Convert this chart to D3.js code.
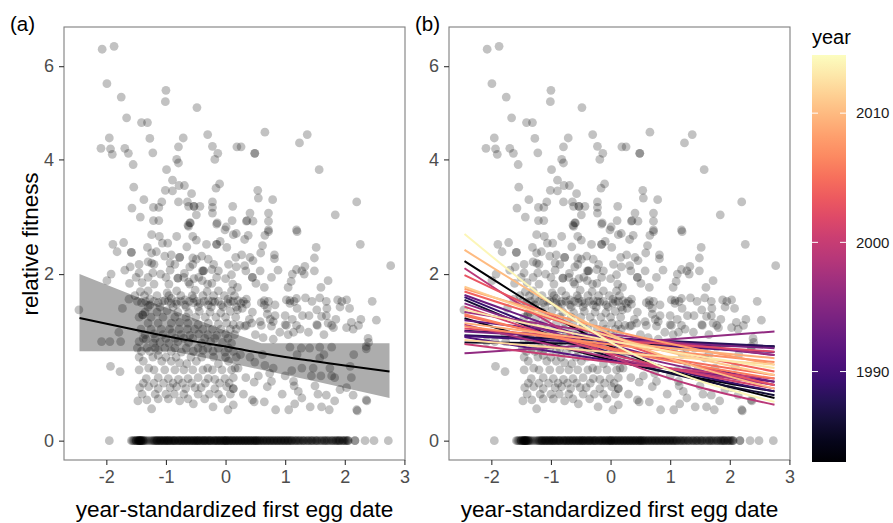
<!DOCTYPE html>
<html>
<head>
<meta charset="utf-8">
<script src="https://cdn.jsdelivr.net/npm/d3@7"></script>
<style>
  body { margin: 0; background: #fff; }
  text { font-family: "Liberation Sans", Arial, sans-serif; }
</style>
</head>
<body>
<script>
// relative fitness vs year-standardized first egg date
// (a) pooled fit with CI, (b) one fit per year coloured by year

// ---- nests: [egg date, relative fitness] ----
var highNests = [
  [-2.07,6.4],[-1.87,6.47],[-1.99,5.6],[-1.75,5.3],[-1.0,5.45],[-1.01,5.2],[-0.48,5.07],
  [-1.66,4.85],[-1.41,4.75],[-1.31,4.75],[-1.95,4.43],[-1.27,4.42],[-0.71,4.43],[-0.30,4.5],
  [0.66,4.55],[1.37,4.5],[1.24,4.33],[-2.09,4.22],[-1.93,4.21],[-1.90,4.1],[-1.69,4.22],
  [-1.63,4.12],[-1.22,4.13],[-0.79,4.25],[-0.22,4.26],[-0.13,4.12],[-0.18,4.0],[0.19,4.25],
  [0.26,4.25],[0.49,4.12],[0.49,4.12],[-0.82,4.0],[-0.79,3.93],[-1.55,3.9],[-0.99,3.8],[1.57,3.8],
  [-1.54,3.47],[-0.89,3.6],[-0.89,3.4],[-0.78,3.5],[-0.69,3.5],[-1.01,3.41],[-0.57,3.35],
  [-0.16,3.45],[-0.10,3.53],[0.54,3.41],[0.55,3.27],[0.79,3.24],[-1.37,3.24],[-1.57,3.09],
  [-1.21,3.1],[-1.12,3.1],[-1.07,3.2],[-0.79,3.2],[-0.64,3.2],[-0.62,3.12],[-0.53,3.12],
  [-0.53,3.12],[-0.43,3.12],[-0.22,3.2],[-0.22,3.1],[-0.22,3.0],[0.12,3.12],[0.41,3.0],
  [0.72,3.0],[0.72,2.86],[-1.43,2.93],[-1.21,2.87],[-1.12,2.87],[-0.59,2.83],[-0.62,2.77],
  [-0.49,2.97],[-0.14,2.83],[0.11,2.87],[0.36,2.87],[0.01,2.76],[2.20,3.2],[1.84,2.97],
  [1.19,2.71],[0.72,2.71]
];

var midNests = [
  [-1.89,2.47],[-1.71,2.5],[-1.82,2.35],[-1.58,2.34],[-1.58,2.34],[-1.31,2.42],[-1.24,2.63],
  [-1.11,2.6],[-1.06,2.49],[-0.97,2.49],[-0.82,2.6],[-0.63,2.79],[-0.6,2.83],[-0.55,2.6],
  [-0.49,2.54],[-0.32,2.47],[-0.15,2.47],[-0.15,2.47],[-0.09,2.52],[0.02,2.42],[-0.01,2.71],
  [0.13,2.63],[-0.15,2.81],[-1.24,2.33],[-1.16,2.35],[-1.3,2.19],[-1.24,2.17],[-1.02,2.28],
  [-0.91,2.3],[-0.77,2.26],[-0.77,2.26],[-0.93,2.17],[-0.65,2.43],[-0.55,2.25],[-0.49,2.23],
  [-0.6,2.11],[-0.40,2.28],[-0.29,2.23],[-0.37,2.05],[-0.37,2.05],[-0.23,2.07],[-0.12,2.05],
  [-1.6,2.11],[-1.69,2.06],[-1.45,2.02],[-1.92,2.0],[-1.99,1.9],[-1.61,1.86],[-1.40,1.87],
  [-1.22,2.02],[-1.09,2.0],[-0.93,2.06],[-0.8,1.94],[-0.8,1.94],[-0.69,2.01],[-0.62,1.88],
  [-0.53,1.93],[-0.39,2.05],[-0.39,1.9],[-0.23,1.86],[0.0,1.93],[0.1,1.99],
  [-1.43,1.74],[-1.3,1.75],[-1.62,1.63],[-0.98,1.72],[-0.82,1.75],[-0.51,1.76],[-0.31,1.74],[-0.12,1.75],
  [0.35,2.86],[0.46,2.86],[0.18,2.65],[0.38,2.62],[0.32,2.55],[0.66,2.62],[0.72,2.68],[1.2,2.68],
  [0.62,2.45],[0.59,2.33],[0.82,2.30],[0.82,2.24],[1.52,2.42],[1.49,2.25],[2.26,2.47],
  [0.17,2.26],[0.27,2.30],[0.41,2.26],[0.46,2.21],[0.18,2.11],[0.32,2.13],[0.34,2.05],
  [0.58,2.05],[0.88,2.06],[0.77,1.95],[1.1,1.89],[1.12,2.0],[1.19,2.07],[1.28,2.05],
  [1.33,2.12],[1.32,2.0],[1.49,2.05],[1.72,1.9],[2.77,2.13],[0.45,1.95],[0.45,1.95],
  [0.51,1.86],[0.1,1.75],
  // the dense row near 1.6
  [-1.41,1.58],[-1.27,1.63],[-1.27,1.55],[-1.13,1.58],[-1.02,1.61],[-0.91,1.57],[-0.91,1.64],
  [-0.82,1.56],[-0.82,1.6],[-0.68,1.55],[-0.68,1.62],[-0.54,1.58],[-0.54,1.64],[-0.43,1.57],
  [-0.29,1.61],[-0.29,1.55],[-0.18,1.59],[-0.07,1.55],[0.04,1.57],[0.04,1.63],[0.13,1.6],
  [0.21,1.61],[0.26,1.57],[0.35,1.63],[0.35,1.56],[0.6,1.58],[0.65,1.55],[0.65,1.61],
  [0.83,1.55],[1.02,1.62],[1.08,1.57],[1.08,1.61],[1.19,1.64],[1.34,1.65],[1.58,1.65],
  [1.69,1.6],[1.88,1.62],[2.03,1.62],[2.46,1.6],
  [-2.46,1.48],[-1.73,1.5],[-1.39,1.41],[-1.39,1.41],
  [1.92,1.52],[2.08,1.5],[2.27,1.35],[2.53,1.34],[2.11,1.31],
  [0.83,1.4],[1.0,1.4],[1.29,1.4],[1.4,1.4],[1.61,1.39],[1.69,1.4],[1.53,1.48],
  [-1.35,1.45],[-1.15,1.45],[-0.98,1.47],[-0.8,1.45],[-0.62,1.44],[-0.44,1.46],[-0.26,1.45],
  [-0.08,1.44],[0.08,1.46],[0.2,1.48],[0.45,1.45],[0.7,1.42]
];

var lowNests = [
  [-1.3,1.3],[-1.13,1.3],[-0.91,1.3],[-0.77,1.31],[-0.63,1.3],[-0.46,1.28],[-0.29,1.3],
  [-0.12,1.29],[0.02,1.3],[0.13,1.28],
  [0.24,1.27],[0.35,1.27],[0.6,1.27],[0.77,1.26],[1.02,1.27],[1.19,1.27],[1.54,1.27],
  [1.78,1.27],[2.23,1.27],
  [-1.35,1.15],[-1.2,1.16],[-1.05,1.15],[-0.9,1.17],[-0.75,1.15],[-0.6,1.14],[-0.45,1.16],
  [-0.3,1.15],[-0.15,1.14],[0.0,1.16],[0.15,1.15],
  [-1.1,1.05],[-0.95,1.04],[-0.8,1.06],[-0.62,1.05],[-0.4,1.04],[-0.25,1.06],[-0.05,1.05],[0.1,1.04],
  [-2.08,1.06],[-1.94,1.06],[-1.79,1.18],[-1.76,1.06],[-1.45,1.06],[-1.33,1.09],[-1.21,1.04],
  [-1.93,0.76],[-1.77,0.7],
  [-1.41,0.94],[-1.27,0.94],[-1.13,0.95],[-0.91,0.94],[-0.74,0.93],[-0.54,0.94],[-0.38,0.95],
  [-0.21,0.94],[-0.01,0.93],[0.13,0.94],
  [-1.38,0.82],[-1.29,0.74],[-1.13,0.89],[-1.07,0.82],[-0.91,0.82],[-0.77,0.8],[-0.65,0.79],
  [-0.49,0.82],[-0.3,0.74],[-0.12,0.79],[0.05,0.82],[0.16,0.74],
  [-1.33,0.62],[-1.13,0.63],[-0.96,0.62],[-0.79,0.61],[-0.63,0.62],[-0.46,0.63],[-0.29,0.62],
  [-0.18,0.61],[-0.01,0.62],[0.13,0.63],
  [-1.44,0.52],[-1.29,0.53],[-1.13,0.51],[-0.93,0.52],[-0.82,0.53],[-0.67,0.51],[-0.51,0.52],
  [-0.41,0.52],[-0.18,0.51],[0.02,0.53],[0.13,0.51],
  [-1.47,0.38],[-1.32,0.39],[-1.24,0.3],[-1.13,0.4],[-0.96,0.4],[-0.77,0.38],[-0.63,0.4],
  [-0.54,0.35],[-0.35,0.4],[-0.21,0.32],[-0.06,0.4],[0.04,0.29],
  [0.18,1.22],[0.32,1.26],[0.44,1.3],[0.58,1.32],[0.8,1.32],[1.0,1.28],[1.14,1.18],[1.25,1.22],
  [1.39,1.18],[1.53,1.28],[1.72,1.3],[1.81,1.24],[2.03,1.24],[2.14,1.22],[2.39,1.1],[2.36,1.0],
  [1.78,0.99],[1.58,0.99],[1.41,0.98],[1.27,0.98],[1.08,0.99],[0.91,1.18],[0.63,1.11],[0.8,1.09],
  [2.40,1.05],[2.36,0.97],
  [0.21,0.74],[0.41,0.87],[0.49,0.81],[0.66,0.77],[0.8,0.74],[0.74,0.68],[0.77,0.59],[0.70,0.53],
  [0.34,0.63],[0.48,0.58],[1.11,0.71],[1.14,0.59],[1.15,0.54],[1.22,0.48],[1.28,0.74],[1.47,0.74],
  [1.5,0.54],[1.44,0.65],[1.58,0.86],[1.75,0.74],[1.78,0.65],[1.83,0.63],[1.92,0.5],[2.11,0.63],
  [2.09,0.76],[2.03,0.52],[2.14,0.44],[2.37,0.38],
  [0.45,0.39],[0.48,0.37],[0.65,0.37],[0.84,0.29],[1.06,0.29],[1.16,0.35],[1.28,0.41],[1.42,0.32],
  [1.61,0.32],[1.69,0.44],[1.74,0.29],[1.83,0.38],[2.2,0.29],[2.21,0.28],[2.36,0.39],
  [0.13,0.51],[0.13,0.34]
];

// the crowded core of the cloud, left of the mean date
var coreNests = [
  [-1.45,2.15],[-1.2,2.15],[-0.85,2.15],[-0.55,2.15],[-0.2,2.15],[0.05,2.15],
  [-1.5,1.95],[-1.3,1.95],[-1.0,1.95],[-0.7,1.95],[-0.45,1.95],[-0.15,1.95],
  [-1.2,1.85],[-0.95,1.85],[-0.6,1.85],[-0.3,1.85],[0.12,1.85],
  [-1.52,1.68],[-1.36,1.68],[-1.15,1.68],[-0.95,1.68],[-0.75,1.68],[-0.56,1.68],[-0.38,1.68],
  [-0.2,1.68],[-0.02,1.68],[0.15,1.68],
  [-1.48,1.6],[-1.34,1.6],[-1.2,1.6],[-1.06,1.6],[-0.96,1.6],[-0.75,1.6],[-0.61,1.6],
  [-0.48,1.6],[-0.36,1.6],[-0.22,1.6],[-0.12,1.6],[0.08,1.6],
  [-1.3,1.52],[-1.1,1.52],[-0.88,1.52],[-0.66,1.52],[-0.46,1.52],[-0.24,1.52],[-0.04,1.52],[0.18,1.52],
  [-1.45,1.38],[-1.25,1.38],[-1.05,1.38],[-0.85,1.38],[-0.66,1.38],[-0.5,1.38],[-0.34,1.38],
  [-0.16,1.38],[0.0,1.38],[0.17,1.38],
  [-1.42,1.22],[-1.25,1.22],[-1.08,1.22],[-0.94,1.22],[-0.78,1.22],[-0.64,1.22],[-0.52,1.22],
  [-0.38,1.22],[-0.22,1.22],[-0.08,1.22],[0.08,1.22],
  [-1.38,1.1],[-1.18,1.1],[-1.0,1.1],[-0.84,1.1],[-0.7,1.1],[-0.55,1.1],[-0.35,1.1],[-0.18,1.1],[0.04,1.1],
  [-1.48,0.98],[-1.32,0.98],[-1.18,0.98],[-1.02,0.98],[-0.85,0.98],[-0.66,0.98],[-0.46,0.98],
  [-0.3,0.98],[-0.12,0.98],[0.05,0.98],
  [-1.45,0.87],[-1.22,0.87],[-1.0,0.87],[-0.83,0.87],[-0.58,0.87],[-0.4,0.87],[-0.2,0.87],[0.0,0.87],[0.18,0.87],
  [-1.45,0.72],[-1.2,0.72],[-1.02,0.72],[-0.85,0.72],[-0.7,0.72],[-0.55,0.72],[-0.38,0.72],
  [-0.22,0.72],[-0.06,0.72],[0.1,0.72],
  [-1.38,0.57],[-1.2,0.57],[-1.04,0.57],[-0.88,0.57],[-0.72,0.57],[-0.57,0.57],[-0.34,0.57],[-0.1,0.57],[0.06,0.57],
  [-1.4,0.45],[-1.18,0.45],[-1.0,0.45],[-0.86,0.45],[-0.7,0.45],[-0.46,0.45],[-0.27,0.45],[-0.12,0.45],[0.08,0.45]
];

// the cloud right of the mean date
var lateNests = [
  [0.3,1.6],[0.72,1.6],[1.15,1.6],[1.45,1.6],[1.95,1.6],
  [0.28,1.5],[0.7,1.5],[1.2,1.5],[1.7,1.5],
  [0.4,1.35],[0.75,1.35],[1.12,1.35],[1.85,1.35],
  [0.5,1.15],[1.05,1.15],[1.65,1.15],
  [0.25,0.9],[0.62,0.9],[1.2,0.9],[1.65,0.9],[2.15,0.9],
  [0.55,0.65],[1.0,0.65],[1.6,0.65],
  [0.3,0.45],[0.95,0.45],[1.55,0.45],
  [0.2,1.8],[0.65,1.8],[1.05,1.8],[1.6,1.8]
];

// nests that fledged nothing, egg dates only
var zeroDates = [
  -1.95,-1.58,-1.54,-1.5,-1.47,-1.45,-1.45,-1.43,-1.43,-1.41,-1.38,-1.35,-1.3,-1.22,-1.19,
  -1.16,-1.13,-1.1,-1.07,-1.04,-1.0,-1.0,-0.97,-0.94,-0.9,-0.87,-0.84,-0.8,-0.77,-0.74,-0.7,
  -0.67,-0.64,-0.6,-0.57,-0.54,-0.5,-0.5,-0.47,-0.44,-0.4,-0.37,-0.34,-0.3,-0.27,-0.24,-0.2,
  -0.17,-0.14,-0.1,-0.07,-0.04,0.0,0.0,0.03,0.06,0.1,0.13,0.16,0.2,0.23,0.26,0.3,0.33,0.36,
  0.4,0.43,0.47,0.5,0.5,0.54,0.58,0.62,0.66,0.7,0.74,0.78,0.82,0.86,0.9,0.94,0.98,1.0,1.02,
  1.06,1.1,1.15,1.2,1.25,1.3,1.36,1.42,1.47,1.52,1.58,1.65,1.7,1.77,1.83,1.88,1.92,1.97,
  2.02,2.06,2.17,2.17,2.34,2.49,2.73,
  -1.56,-1.52,-1.49,-1.46,-1.44,-1.42,-1.4,-1.37,-1.33,-1.27,-1.24,-1.2,-1.17,-1.14,-1.11,
  -1.08,-1.05,-1.02,-0.98,-0.95,-0.92,-0.88,-0.85,-0.82,-0.78,-0.75,-0.72,-0.68,-0.65,-0.62,
  -0.58,-0.55,-0.52,-0.48,-0.45,-0.42,-0.38,-0.35,-0.32,-0.28,-0.25,-0.22,-0.18,-0.15,-0.12,
  -0.08,-0.05,-0.02,0.02,0.05,0.08,0.12,0.15,0.18,0.22,0.25,0.28,0.32,0.35,0.38,0.42,0.45,
  0.49,0.52,0.56,0.6,0.64,0.68,0.72,0.76,0.8,0.84,0.88,0.92,0.96,1.04,1.08,1.12,1.18,1.22,
  1.28,1.33,1.39,1.45,1.5,1.55,1.62,1.68,1.74,1.8,1.86,1.9,1.95,2.0,2.04,
  -1.5,-1.46,-1.42,-1.39,-1.15,-1.09,-1.03,-0.96,-0.91,-0.86,-0.79,-0.73,-0.69,-0.63,-0.59,
  -0.53,-0.46,-0.41,-0.36,-0.31,-0.26,-0.19,-0.13,-0.09,-0.03,0.01,0.07,0.11,0.17,0.21,0.27,
  0.31,0.37,0.41,0.46,0.53,0.57,0.63,0.69,0.75,0.81,0.87,0.93,0.99,1.05,1.11,1.17,1.24,1.31,
  1.38,1.44,1.53,1.6,1.66,1.72,1.79,1.85,1.91,1.98,2.05
];

// pooled fit (panel a)
var pooledX = [-2.45,-1.5,-0.5,0,0.5,1,1.5,2,2.75];
var pooledFit = [1.37,1.21,1.06,1.0,0.93,0.87,0.82,0.77,0.70];
var bandX = [-2.45,-1.5,-0.9,0,0.6,1.5,2.75];
var bandHi = [2.0,1.67,1.48,1.2,1.04,1.04,1.04];
var bandLo = [0.94,0.94,0.94,0.81,0.72,0.59,0.41];

// per-year fits (panel b), value at left end, middle, right end
var fitAt = [-2.45, 0.15, 2.75];
var years =    [2014,2010,1983,1999,2003,2011,2008,2004,1993,1989,1986,1995,2001,2013,2006,1984,
                1992,2009,2007,2002,1994,1987,1991,2012,1985,2000,1996,2005,1997,1998,1988,1990];
var fitLeft =  [2.64,2.38,2.2,2.09,1.985,1.81,1.78,1.74,1.69,1.66,1.62,1.57,1.525,1.48,1.42,1.365,
                1.34,1.3,1.26,1.23,1.19,1.14,1.12,1.08,1.05,1.03,0.915,1.4,1.45,1.28,1.2,1.13];
var fitMid =   [0.99,1.10,0.95,0.84,1.045,1.09,1.18,1.10,0.99,0.89,0.84,0.93,0.88,1.05,0.94,0.81,
                1.10,1.05,1.01,1.07,1.08,1.07,0.81,0.92,1.03,0.80,1.04,0.96,1.14,0.84,1.10,1.03];
var fitRight = [0.37,0.51,0.41,0.34,0.55,0.66,0.78,0.70,0.585,0.48,0.44,0.55,0.51,0.74,0.62,0.48,
                0.895,0.855,0.81,0.935,0.977,1.0,0.585,0.78,1.0,0.62,1.19,0.66,0.895,0.55,1.0,0.93];

var xTicks = [-2,-1,0,1,2,3];
var yTicks = [0,2,4,6];
var yearTicks = [1990,2000,2010];
var yearRange = [1983, 2014.5];

// ---- layout ----
var W = 893, H = 523;
var plotTop = 27, plotBottom = 460;
var panels = [
  {label: '(a)', left: 64, right: 405, labelX: 10},
  {label: '(b)', left: 449, right: 790, labelX: 415}
];

var svg = d3.select('body').append('svg')
    .attr('width', W).attr('height', H);

// y axis is on a sqrt(y + 1) scale
var yRoot = d3.scaleLinear().domain([0.915, 2.818]).range([plotBottom, plotTop]);
function yPos(v) { return yRoot(Math.sqrt(v + 1)); }

var yearColor = d3.scaleSequential(d3.interpolateMagma).domain(yearRange);

var allNests = highNests.concat(midNests, lowNests, coreNests, lateNests,
  zeroDates.map(d => [d, 0]));

panels.forEach(function(p, i) {
  var x = d3.scaleLinear().domain([-2.71, 3.01]).range([p.left, p.right]);
  var g = svg.append('g');

  g.append('clipPath').attr('id', 'clip' + i)
    .append('rect')
      .attr('x', p.left).attr('y', plotTop)
      .attr('width', p.right - p.left).attr('height', plotBottom - plotTop);

  var inner = g.append('g').attr('clip-path', 'url(#clip' + i + ')');

  if (i == 0) {
    var band = bandX.map((d, k) => ({x: d, lo: bandLo[k], hi: bandHi[k]}));
    inner.append('path')
      .datum(band)
      .attr('fill', '#adadad')
      .attr('d', d3.area()
        .x(d => x(d.x))
        .y0(d => yPos(d.lo))
        .y1(d => yPos(d.hi)));
  }

  inner.selectAll('circle')
    .data(allNests)
    .enter().append('circle')
      .attr('cx', d => x(d[0]))
      .attr('cy', d => yPos(d[1]))
      .attr('r', 4.4)
      .attr('fill', '#000')
      .attr('fill-opacity', 0.24);

  if (i == 0) {
    inner.append('path')
      .datum(pooledX.map((d, k) => [d, pooledFit[k]]))
      .attr('fill', 'none')
      .attr('stroke', '#000')
      .attr('stroke-width', 2)
      .attr('d', d3.line().curve(d3.curveMonotoneX)
        .x(d => x(d[0])).y(d => yPos(d[1])));
  } else {
    // draw older years first so later ones sit on top
    var fits = years.map((yr, k) => ({year: yr, vals: [fitLeft[k], fitMid[k], fitRight[k]]}))
      .sort((a, b) => a.year - b.year);
    inner.selectAll('.fit')
      .data(fits)
      .enter().append('path')
        .attr('class', 'fit')
        .attr('fill', 'none')
        .attr('stroke', d => yearColor(d.year))
        .attr('stroke-width', 2)
        .attr('d', d => d3.line().curve(d3.curveMonotoneX)
          .x((v, k) => x(fitAt[k])).y(v => yPos(v))(d.vals));
  }

  // panel border
  g.append('rect')
    .attr('x', p.left).attr('y', plotTop)
    .attr('width', p.right - p.left).attr('height', plotBottom - plotTop)
    .attr('fill', 'none')
    .attr('stroke', '#7f7f7f')
    .attr('stroke-width', 1.1);

  var xAxis = g.append('g')
    .attr('transform', 'translate(0,' + plotBottom + ')')
    .call(d3.axisBottom(x).tickValues(xTicks).tickSize(5).tickPadding(5).tickFormat(d => String(d)));

  var yAxis = g.append('g')
    .attr('transform', 'translate(' + p.left + ',0)')
    .call(d3.axisLeft(yRoot)
      .tickValues(yTicks.map(v => Math.sqrt(v + 1)))
      .tickSize(5).tickPadding(5)
      .tickFormat(s => String(Math.round(s * s - 1))));

  [xAxis, yAxis].forEach(function(ax) {
    ax.select('.domain').remove();
    ax.selectAll('.tick line').attr('stroke', '#333').attr('stroke-width', 1.1);
    ax.selectAll('.tick text')
      .attr('fill', '#4d4d4d')
      .style('font-size', '18px')
      .style('font-family', '"Liberation Sans", Arial, sans-serif');
  });

  g.append('text')
    .attr('x', (p.left + p.right) / 2)
    .attr('y', 517)
    .attr('text-anchor', 'middle')
    .style('font-size', '22.6px')
    .text('year-standardized first egg date');

  g.append('text')
    .attr('x', p.labelX)
    .attr('y', 31)
    .style('font-size', '20.5px')
    .text(p.label);
});

// y title, only on the left panel
svg.append('text')
  .attr('transform', 'translate(38,244) rotate(-90)')
  .attr('text-anchor', 'middle')
  .style('font-size', '22.4px')
  .text('relative fitness');

// ---- colour bar legend ----
var barX = 812, barW = 34, barTop = 55, barBottom = 462;
var yearY = d3.scaleLinear().domain(yearRange).range([barBottom, barTop]);

var grad = svg.append('defs').append('linearGradient')
  .attr('id', 'yeargrad')
  .attr('x1', 0).attr('y1', 1).attr('x2', 0).attr('y2', 0);
d3.range(0, 21).forEach(function(k) {
  grad.append('stop')
    .attr('offset', (k / 20 * 100) + '%')
    .attr('stop-color', d3.interpolateMagma(k / 20));
});

svg.append('rect')
  .attr('x', barX).attr('y', barTop)
  .attr('width', barW).attr('height', barBottom - barTop)
  .attr('fill', 'url(#yeargrad)');

var legendTicks = svg.append('g').selectAll('g')
  .data(yearTicks)
  .enter().append('g')
    .attr('transform', d => 'translate(0,' + yearY(d) + ')');

legendTicks.append('line')
  .attr('x1', barX).attr('x2', barX + 6)
  .attr('stroke', '#fff').attr('stroke-width', 1);
legendTicks.append('line')
  .attr('x1', barX + barW - 6).attr('x2', barX + barW)
  .attr('stroke', '#fff').attr('stroke-width', 1);
legendTicks.append('text')
  .attr('x', barX + barW + 10)
  .attr('dy', '0.35em')
  .style('font-size', '15px')
  .attr('fill', '#1a1a1a')
  .text(d => d);

svg.append('text')
  .attr('x', barX)
  .attr('y', 44)
  .style('font-size', '20px')
  .text('year');
</script>
</body>
</html>
